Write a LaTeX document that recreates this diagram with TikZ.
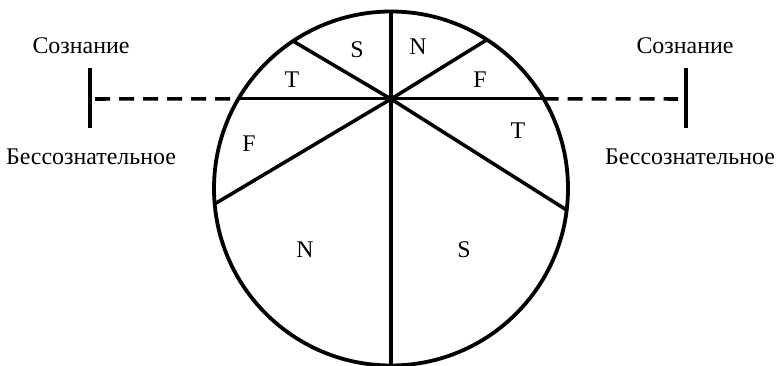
\documentclass[tikz,border=0pt]{standalone}
\usepackage{fontspec}
\setmainfont{Liberation Serif}
\usepackage{tikz}
\usetikzlibrary{positioning,calc}

\begin{document}
\begin{tikzpicture}[
  x=0.025cm, y=-0.025cm,
  font=\fontsize{17}{20}\selectfont,
  disc/.style   = {line width=2.7pt},
  spoke/.style  = {line width=2.5pt},
  axis/.style   = {line width=2.2pt},
  level/.style  = {dash pattern=on 0.375cm off 0.225cm, line width=2.5pt},
  bar/.style    = {line width=2.8pt},
  fn/.style     = {inner sep=0pt},
  capt/.style   = {inner sep=0pt},
]
\useasboundingbox (0,0) rectangle (776,366);

% ----------------------------- circle and hub -----------------------------
% (y axis points down, so -a below is the angle a on the page)
\coordinate (c) at (391,188.5);
\coordinate (hub) at (391,99);
\draw[disc] (c) circle[radius=177];

\coordinate (top)   at ($(c)+(-90:177)$);
\coordinate (bot)   at ($(c)+(90:177)$);
\coordinate (west)  at ($(c)+(-149.6:177)$);
\coordinate (east)  at ($(c)+(-30.4:177)$);
\coordinate (nw)    at ($(c)+(-123.6:177)$);
\coordinate (ne)    at ($(c)+(-57.2:177)$);
\coordinate (sw)    at ($(c)+(-185:177)$);
\coordinate (se)    at ($(c)+(7:177)$);

% ----------------------------- spokes -------------------------------------
\draw[axis]  (top) -- (bot);
\draw[axis]  (west) -- (east);
\draw[spoke] (hub) -- (nw);
\draw[spoke] (hub) -- (ne);
\draw[spoke] (hub) -- (sw);
\draw[spoke] (hub) -- (se);

% ----------------------------- functions ----------------------------------
\node[fn] (s1) at (357,50)  {S};
\node[fn] (n1) at (418,47)  {N};
\node[fn] (t1) at (292,80)  {T};
\node[fn] (f1) at (480,80)  {F};
\node[fn] (f2) at (249,144) {F};
\node[fn] (t2) at (518,131) {T};
\node[fn] (n2) at (305,250) {N};
\node[fn] (s2) at (464,250) {S};

% ----------------------------- threshold ----------------------------------
\coordinate (lbar) at (90,99);
\coordinate (rbar) at (686,99);
\draw[bar] ($(lbar)+(0,-31)$) -- ($(lbar)+(0,29)$);
\draw[bar] ($(rbar)+(0,-31)$) -- ($(rbar)+(0,29)$);
\draw[level] ($(lbar)+(5,0)$) -- (west);
\draw[level] (east) -- ($(rbar)+(-8,0)$);

% ----------------------------- captions -----------------------------------
\node[capt] (cl) at (81,46)  {Сознание};
\node[capt] (ul) at (91,157) {Бессознательное};
\node[capt] (cr) at (685,46) {Сознание};
\node[capt] (ur) at (690,157) {Бессознательное};

\end{tikzpicture}
\end{document}
